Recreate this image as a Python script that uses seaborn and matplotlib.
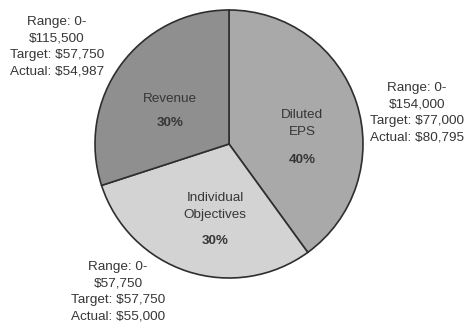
import matplotlib
matplotlib.use("Agg")
import matplotlib.pyplot as plt
import seaborn as sns

# ---- data ----
categories = ["Diluted\nEPS", "Individual\nObjectives", "Revenue"]
shares = [40, 30, 30]
pct_labels = ["40%", "30%", "30%"]
range_labels = ["Range: 0-\n$154,000", "Range: 0-\n$57,750", "Range: 0-\n$115,500"]
target_labels = ["Target: $77,000", "Target: $57,750", "Target: $57,750"]
actual_labels = ["Actual: $80,795", "Actual: $55,000", "Actual: $54,987"]

colors = ["#a9a9a9", "#d3d3d3", "#8f8f8f"]

sns.set_theme(style="white")
plt.rcParams["font.family"] = ["Liberation Sans", "DejaVu Sans"]

W, H = 466, 322
fig = plt.figure(figsize=(W / 100, H / 100), dpi=100)
fig.patch.set_facecolor("white")
ax = fig.add_axes([0, 0, 1, 1])
ax.set_xlim(0, W)
ax.set_ylim(H, 0)
ax.set_aspect("equal")
ax.axis("off")

cx, cy, r = 229, 144, 134
# y axis inverted: counterclock=True appears clockwise on screen
wedges, _ = ax.pie(shares, colors=colors, startangle=-90, counterclock=True,
                   center=(cx, cy), radius=r,
                   wedgeprops=dict(edgecolor="#2e2e2e", linewidth=1.2))
ax.set_xlim(0, W)
ax.set_ylim(H, 0)

tc = "#363636"
fs = 9.7

# inner labels: (name center, pct center)
inner_pos = [((302, 123.5), (302, 160)), ((215, 206.5), (215, 241)), ((170, 99), (170, 123))]
for name, pct, (npos, ppos) in zip(categories, pct_labels, inner_pos):
    ax.text(*npos, name, ha="center", va="center", fontsize=fs, color=tc, linespacing=1.45)
    ax.text(*ppos, pct, ha="center", va="center", fontsize=fs, color=tc, fontweight="bold")

# outer annotation blocks: center x, first line y, step
outer_pos = [(417, 88), (118, 267), (57, 22)]
step = 16.4
for rl, tl, al, (x, y0) in zip(range_labels, target_labels, actual_labels, outer_pos):
    lines = rl.split("\n") + [tl, al]
    for i, line in enumerate(lines):
        ax.text(x, y0 + i * step, line, ha="center", va="center", fontsize=fs, color=tc)

fig.savefig("out.png", dpi=100, facecolor="white")
